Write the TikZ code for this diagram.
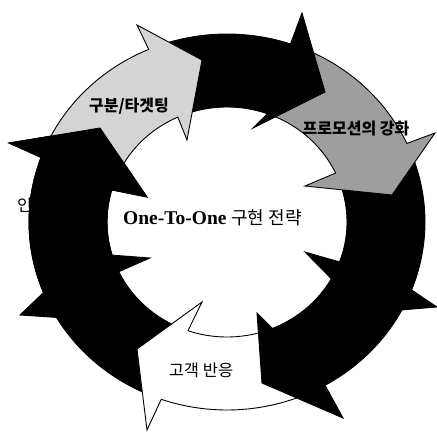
\documentclass[tikz,border=0pt]{standalone}
\usepackage{fontspec}
\setmainfont{Liberation Serif}
\newfontfamily\kr{Noto Sans CJK KR}
\tikzset{
  seg/.style={draw=black, line width=0.9pt},
  blk/.style={seg, fill=black},
  lgr/.style={seg, fill=black!17},
  dgr/.style={seg, fill=black!38},
  wht/.style={seg, fill=white},
  lblb/.style={font=\kr\bfseries\fontsize{16}{17}\selectfont, inner sep=0pt},
  lbln/.style={font=\kr\fontsize{16.5}{17}\selectfont, inner sep=0pt}
}
\begin{document}
\begin{tikzpicture}[x=1pt,y=-1pt]
\useasboundingbox (0,0) rectangle (437,432);
\fill[white] (0,0) rectangle (437,432);
\node[lbln, anchor=west] (tH) at (17,205) {인};
\begin{scope}[shift={(227,222)}]
% H (black, upper left)
\path[blk] plot[domain=149.5:200.1,samples=30,variable=\t]({198*cos(\t)},{188*sin(\t)}) -- (-218,-79) -- (-127,-94) -- (-80,-25) -- plot[domain=196.2:154.4,samples=30,variable=\t]({120*cos(\t)},{115*sin(\t)}) -- cycle;
% G (black, lower left)
\path[blk] plot[domain=109.4:149.5,samples=30,variable=\t]({198*cos(\t)},{188*sin(\t)}) -- (-207,93) -- (-142,31) -- (-77,36) -- plot[domain=154.4:109,samples=30,variable=\t]({120*cos(\t)},{115*sin(\t)}) -- cycle;
% F (white, bottom)
\path[wht] plot[domain=60.3:109.4,samples=30,variable=\t]({198*cos(\t)},{188*sin(\t)}) -- (-80,208) -- (-90,127) -- (-25,80) -- plot[domain=109:67.8,samples=30,variable=\t]({120*cos(\t)},{115*sin(\t)}) -- cycle;
% E (black, lower right)
\path[blk] plot[domain=21.2:60.3,samples=30,variable=\t]({198*cos(\t)},{188*sin(\t)}) -- (116,196) -- (35,161) -- (30,91) -- plot[domain=67.8:20.3,samples=30,variable=\t]({120*cos(\t)},{115*sin(\t)}) -- cycle;
% D (black, right)
\path[blk] plot[domain=-24.7:21.2,samples=30,variable=\t]({198*cos(\t)},{188*sin(\t)}) -- (210,85) -- (138,91) -- (78,30) -- plot[domain=20.3:-25.2,samples=30,variable=\t]({120*cos(\t)},{115*sin(\t)}) -- cycle;
% C (grey, upper right)
\path[dgr] plot[domain=-71.3:-24.7,samples=30,variable=\t]({198*cos(\t)},{188*sin(\t)}) -- (208,-89) -- (165,-27) -- (78,-36) -- plot[domain=-25.2:-70.3,samples=30,variable=\t]({120*cos(\t)},{115*sin(\t)}) -- cycle;
% B (black, top)
\path[blk] plot[domain=-113.3:-71.3,samples=30,variable=\t]({198*cos(\t)},{188*sin(\t)}) -- (75,-209) -- (98,-130) -- (26,-94) -- plot[domain=-70.3:-114.2,samples=30,variable=\t]({120*cos(\t)},{115*sin(\t)}) -- cycle;
% A (light grey, top left)
\path[lgr] plot[domain=-159.9:-113.3,samples=30,variable=\t]({198*cos(\t)},{188*sin(\t)}) -- (-90,-197) -- (-25,-162) -- (-40,-82) -- plot[domain=-114.2:-163.8,samples=30,variable=\t]({120*cos(\t)},{115*sin(\t)}) -- cycle;
% H again, head over A's tail
\path[blk] plot[domain=149.5:200.1,samples=30,variable=\t]({198*cos(\t)},{188*sin(\t)}) -- (-218,-79) -- (-127,-94) -- (-80,-25) -- plot[domain=196.2:154.4,samples=30,variable=\t]({120*cos(\t)},{115*sin(\t)}) -- cycle;
\end{scope}
\node[lblb] (tA) at (129,106) {구분/타겟팅};
\node[lblb] (tC) at (356,129) {프로모션의 강화};
\node[lbln] (tF) at (201,370) {고객 반응};
\node[inner sep=0pt, anchor=base west] (tM) at (123,224) {\fontsize{19.5}{21}\selectfont\bfseries One-To-One \kr\mdseries\fontsize{18}{20}\selectfont 구현 전략};
\end{tikzpicture}
\end{document}
